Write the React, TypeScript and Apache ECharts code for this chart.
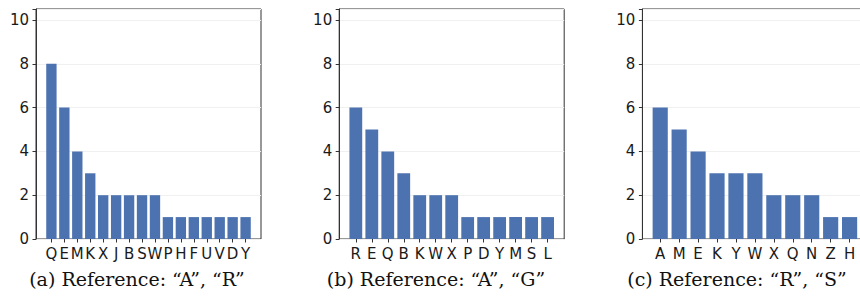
import React, { useEffect, useRef } from "react";
import * as echarts from "echarts";

const catsA = ["Q", "E", "M", "K", "X", "J", "B", "S", "W", "P", "H", "F", "U", "V", "D", "Y"];
const valsA = [8, 6, 4, 3, 2, 2, 2, 2, 2, 1, 1, 1, 1, 1, 1, 1];
const catsB = ["R", "E", "Q", "B", "K", "W", "X", "P", "D", "Y", "M", "S", "L"];
const valsB = [6, 5, 4, 3, 2, 2, 2, 1, 1, 1, 1, 1, 1];
const catsC = ["A", "M", "E", "K", "Y", "W", "X", "Q", "N", "Z", "H"];
const valsC = [6, 5, 4, 3, 3, 3, 2, 2, 2, 1, 1];
const captions = ["(a) Reference: \u201cA\u201d, \u201cR\u201d", "(b) Reference: \u201cA\u201d, \u201cG\u201d", "(c) Reference: \u201cR\u201d, \u201cS\u201d"];
const yMax = 10.5;

const panels = [
  { cats: catsA, vals: valsA },
  { cats: catsB, vals: valsB },
  { cats: catsC, vals: valsC },
];

export default function App() {
  const ref = useRef<HTMLDivElement>(null);
  useEffect(() => {
    if (!ref.current) return;
    const chart = echarts.init(ref.current, undefined, { renderer: "svg" });
    const top = 9;
    const height = 230;
    const axW = 225;
    const pitch = 303.2;
    const grids: any[] = [];
    const xAxes: any[] = [];
    const yAxes: any[] = [];
    const series: any[] = [];
    const graphics: any[] = [];
    const capCenters = [137, 436, 737];
    const labelFont = { fontFamily: "DejaVu Sans", fontSize: 15, color: "#1a1a1a" };
    panels.forEach((p, i) => {
      const L = 36 + pitch * i;
      const n = p.cats.length;
      const s = axW / ((n - 0.2) * 1.1);
      const firstCenter = L + (0.4 + 0.05 * (n - 0.2)) * s;
      const dLeft = firstCenter - s / 2;
      const dW = n * s;
      const fg = grids.length;
      grids.push({ left: L, top, width: axW, height, show: true, borderColor: "#333", borderWidth: 1, backgroundColor: "transparent" });
      xAxes.push({ gridIndex: fg, type: "value", min: 0, max: 1, show: false });
      yAxes.push({
        gridIndex: fg,
        type: "value",
        min: 0,
        max: yMax,
        interval: 2,
        axisLine: { show: true, lineStyle: { color: "#333" } },
        axisTick: { show: true, length: 3.5, lineStyle: { color: "#333" } },
        axisLabel: { ...labelFont, margin: 7, formatter: (v: number) => (v <= 10 ? String(v) : "") },
        splitLine: { show: true, lineStyle: { color: "#f0f0f0", width: 1 } },
      });
      const dg = grids.length;
      grids.push({ left: dLeft, top, width: dW, height, show: false });
      xAxes.push({
        gridIndex: dg,
        type: "category",
        data: p.cats,
        axisLine: { show: false },
        axisTick: { show: true, alignWithLabel: true, length: 3.5, lineStyle: { color: "#333" } },
        axisLabel: { ...labelFont, margin: 7, interval: 0 },
      });
      yAxes.push({ gridIndex: dg, type: "value", min: 0, max: yMax, show: false, splitLine: { show: false } });
      series.push({
        type: "bar",
        xAxisIndex: dg,
        yAxisIndex: dg,
        data: p.vals,
        barCategoryGap: "20%",
        itemStyle: { color: "#4c72b0" },
      });
      graphics.push({
        type: "text",
        x: capCenters[i],
        y: 279,
        style: { text: captions[i], font: '19px "DejaVu Serif"', fill: "#111", textAlign: "center", textVerticalAlign: "middle" },
      });
    });
    chart.setOption({
      animation: false,
      backgroundColor: "#fff",
      grid: grids,
      xAxis: xAxes,
      yAxis: yAxes,
      series,
      graphic: graphics,
    });
    return () => chart.dispose();
  }, []);
  return <div ref={ref} style={{ position: "fixed", left: 0, top: 0, width: 880, height: 296 }} />;
}
